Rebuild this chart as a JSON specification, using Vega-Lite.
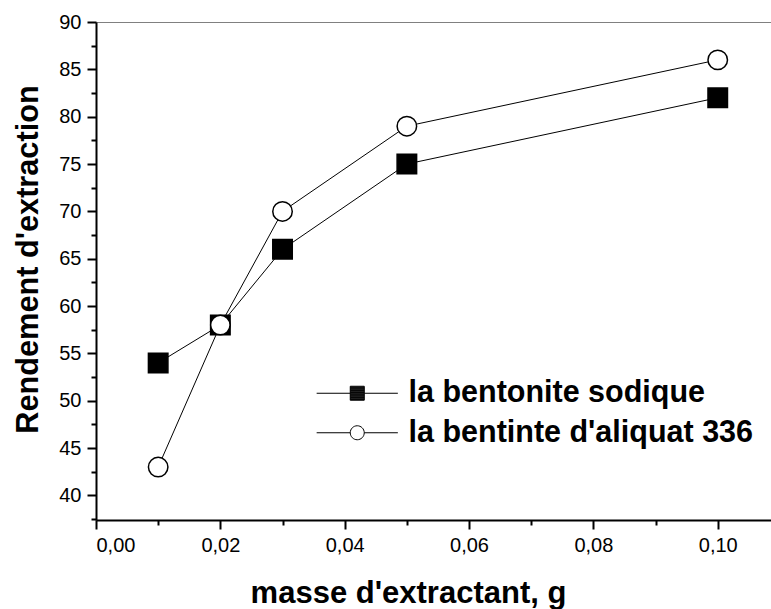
{
  "$schema": "https://vega.github.io/schema/vega-lite/v6.json",
  "width": 677,
  "height": 498,
  "autosize": {"type": "none"},
  "padding": {"left": 96, "top": 22, "right": 0, "bottom": 89},
  "background": "white",
  "config": {
    "view": {"stroke": "#808080", "strokeWidth": 1},
    "font": "Arial",
    "axis": {
      "zindex": 1,
      "grid": false,
      "domainColor": "black",
      "domainWidth": 2,
      "tickColor": "black",
      "tickWidth": 2,
      "labelFont": "Arial",
      "labelFontSize": 20,
      "labelColor": "black",
      "titleFont": "Arial",
      "titleFontWeight": "bold",
      "titleColor": "black"
    }
  },
  "data": {
    "values": [
      {"mass": 0.01, "value": 54, "series": "la bentonite sodique"},
      {"mass": 0.02, "value": 58, "series": "la bentonite sodique"},
      {"mass": 0.03, "value": 66, "series": "la bentonite sodique"},
      {"mass": 0.05, "value": 75, "series": "la bentonite sodique"},
      {"mass": 0.1, "value": 82, "series": "la bentonite sodique"},
      {"mass": 0.01, "value": 43, "series": "la bentinte d'aliquat 336"},
      {"mass": 0.02, "value": 58, "series": "la bentinte d'aliquat 336"},
      {"mass": 0.03, "value": 70, "series": "la bentinte d'aliquat 336"},
      {"mass": 0.05, "value": 79, "series": "la bentinte d'aliquat 336"},
      {"mass": 0.1, "value": 86, "series": "la bentinte d'aliquat 336"}
    ]
  },
  "layer": [
    {
      "mark": {"type": "line", "color": "black", "strokeWidth": 1},
      "encoding": {
        "x": {
          "field": "mass", "type": "quantitative",
          "scale": {"domain": [0, 0.10889], "nice": false, "zero": false},
          "axis": {
            "orient": "bottom",
            "values": [0, 0.02, 0.04, 0.06, 0.08, 0.1],
            "labelExpr": "replace(format(datum.value, '.2f'), '.', ',')",
            "tickSize": 9,
            "labelPadding": 6,
            "title": "masse d'extractant, g",
            "titleFontSize": 31,
            "titleX": 312,
            "titleY": 82,
            "titleAlign": "center",
            "titleBaseline": "alphabetic"
          }
        },
        "y": {
          "field": "value", "type": "quantitative",
          "scale": {"domain": [37.41, 90], "nice": false, "zero": false},
          "axis": {
            "orient": "left",
            "values": [40, 45, 50, 55, 60, 65, 70, 75, 80, 85, 90],
            "tickSize": 9,
            "labelPadding": 6,
            "title": "Rendement d'extraction",
            "titleFontSize": 30.7,
            "titleX": -59,
            "titleY": 237,
            "titleAngle": -90,
            "titleAlign": "center",
            "titleBaseline": "alphabetic"
          }
        },
        "detail": {"field": "series", "type": "nominal"}
      }
    },
    {
      "mark": {"type": "point", "filled": true, "size": 380, "stroke": "black", "strokeWidth": 1.5, "opacity": 1},
      "encoding": {
        "x": {
          "field": "mass", "type": "quantitative",
          "axis": {
            "orient": "bottom",
            "values": [0.01, 0.03, 0.05, 0.07, 0.09],
            "domain": false, "labels": false, "tickSize": 5, "title": null
          }
        },
        "y": {
          "field": "value", "type": "quantitative",
          "axis": {
            "orient": "left",
            "values": [37.5, 42.5, 47.5, 52.5, 57.5, 62.5, 67.5, 72.5, 77.5, 82.5, 87.5],
            "domain": false, "labels": false, "tickSize": 5, "title": null
          }
        },
        "shape": {
          "field": "series", "type": "nominal",
          "scale": {"domain": ["la bentonite sodique", "la bentinte d'aliquat 336"], "range": ["square", "circle"]},
          "legend": null
        },
        "fill": {
          "condition": {"test": "datum.series === 'la bentonite sodique'", "value": "black"},
          "value": "white"
        }
      }
    },
    {
      "data": {"values": []},
      "mark": {"type": "point", "filled": false, "stroke": "black", "strokeWidth": 1, "opacity": 1},
      "encoding": {
        "shape": {
          "field": "series", "type": "nominal",
          "scale": {
            "domain": ["la bentonite sodique", "la bentinte d'aliquat 336"],
            "range": [
              "M-5.8,0H-1M1,0H5.8M-1,-1H1V1H-1ZM-1,-0.9H1M-1,-0.8H1M-1,-0.7H1M-1,-0.6H1M-1,-0.5H1M-1,-0.4H1M-1,-0.3H1M-1,-0.2H1M-1,-0.1H1M-1,0H1M-1,0.1H1M-1,0.2H1M-1,0.3H1M-1,0.4H1M-1,0.5H1M-1,0.6H1M-1,0.7H1M-1,0.8H1M-1,0.9H1",
              "M-5.8,0H-1M1,0H5.8M-1,0A1,1 0 1 0 1,0A1,1 0 1 0 -1,0Z"
            ]
          },
          "legend": {
            "orient": "none", "legendX": 246, "legendY": 356,
            "title": null, "padding": 0,
            "symbolSize": 196, "symbolStrokeColor": "black", "symbolStrokeWidth": 1,
            "symbolFillColor": "white",
            "symbolOpacity": 1,
            "labelFont": "Arial", "labelFontWeight": "bold", "labelFontSize": 30.5,
            "labelColor": "black", "labelLimit": 0, "labelOffset": 36, "rowPadding": 8.5
          }
        }
      }
    }
  ],
  "resolve": {
    "axis": {"x": "independent", "y": "independent"},
    "scale": {"shape": "independent"}
  }
}
